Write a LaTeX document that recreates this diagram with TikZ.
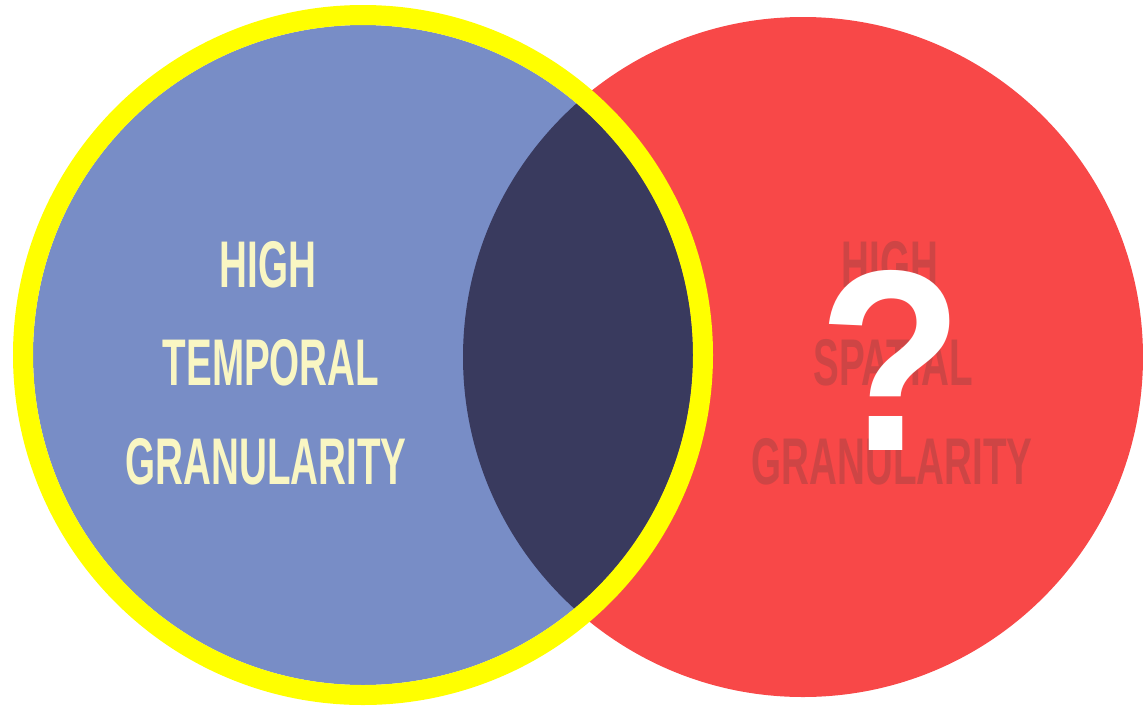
\documentclass[tikz,border=0pt]{standalone}
\usepackage{fontspec}
\newfontfamily\condfont[FakeStretch=0.585]{Liberation Sans}
\newfontfamily\qfont[FakeStretch=0.92]{Liberation Sans}
\definecolor{blueC}{HTML}{788DC6}
\definecolor{darkC}{HTML}{393A5E}
\definecolor{redC}{HTML}{F84848}
\definecolor{yellowC}{HTML}{FFFF00}
\definecolor{paleC}{HTML}{F9F6C3}
\definecolor{dredC}{HTML}{CE4545}
\tikzset{
  lbl/.style={anchor=base, inner sep=0pt, font=\condfont\bfseries\fontsize{66}{66}\selectfont},
  lefttxt/.style={lbl, text=paleC},
  righttxt/.style={lbl, text=dredC},
  qmark/.style={anchor=base, inner sep=0pt, text=white, font=\qfont\bfseries\fontsize{258}{258}\selectfont}
}
\begin{document}
\begin{tikzpicture}[x=1pt,y=-1pt]
\useasboundingbox (0,0) rectangle (1143,705);
\fill[white] (0,0) rectangle (1143,705);
% right circle
\fill[redC] (803,357) circle (340);
% left circle inner
\fill[blueC] (363,355) circle (330);
% intersection
\begin{scope}
  \clip (803,357) circle (340);
  \fill[darkC] (363,355) circle (330);
\end{scope}
% yellow ring
\draw[yellowC, line width=20pt] (363,355) circle (340);
% left texts
\node[lefttxt] (lhigh) at (268,287) {HIGH};
\node[lefttxt] (ltemp) at (271,385) {TEMPORAL};
\node[lefttxt] (lgran) at (266,484) {GRANULARITY};
% right texts
\node[righttxt] (rhigh) at (890,287) {HIGH};
\node[righttxt] (rspat) at (893,385) {SPATIAL};
\node[righttxt] (rgran) at (892,484) {GRANULARITY};
% question mark
\node[qmark] (q) at (891,450) {?};
\end{tikzpicture}
\end{document}
